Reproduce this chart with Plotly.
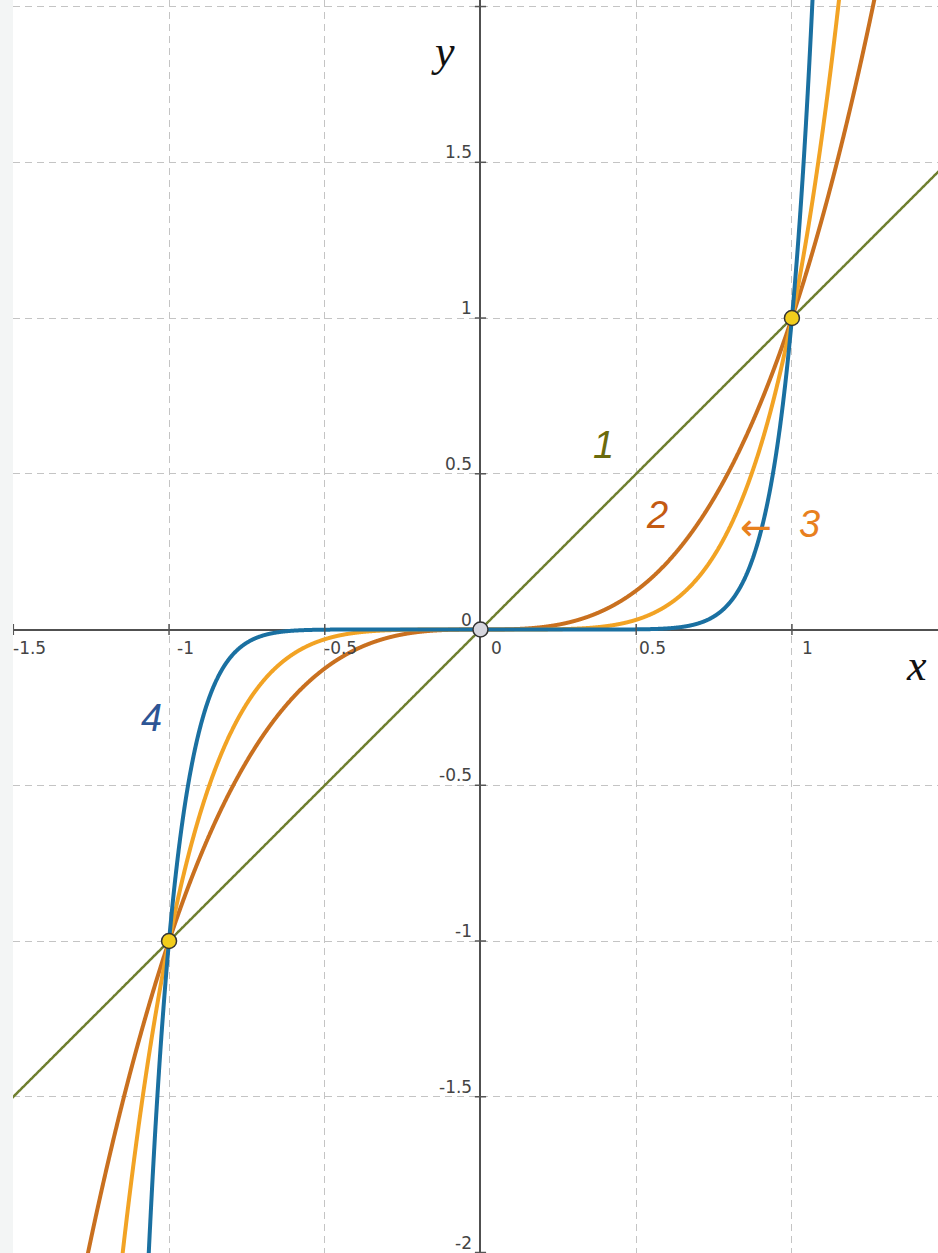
import numpy as np
import plotly.graph_objects as go

# ---- data ----
curve_names = ["1", "2", "3", "4"]
curve_powers = [1, 3, 5, 11]          # y = x^n for each numbered curve
curve_colors = ["#6f7f2f", "#c9701f", "#f2a324", "#1a70a1"]
curve_widths = [2.5, 4, 4, 4]
label_colors = ["#6b6b0c", "#c45a12", "#e8801e", "#2d5595"]

points_x = [-1, 0, 1]
points_y = [-1, 0, 1]
point_fill = ["#f2cd1c", "#d6d6de", "#f2cd1c"]

x_ticks = [-1.5, -1, -0.5, 0, 0.5, 1]
x_tick_labels = ["-1.5", "-1", "-0.5", "0", "0.5", "1"]
y_ticks = [-2, -1.5, -1, -0.5, 0, 0.5, 1, 1.5]
y_tick_labels = ["-2", "-1.5", "-1", "-0.5", "0", "0.5", "1", "1.5"]

x_range = [-1.501, 1.469]
y_range = [-2.0016, 2.021]

fig = go.Figure()

xs = np.linspace(-1.52, 1.5, 4000)
for name, n, col, w in zip(curve_names, curve_powers, curve_colors, curve_widths):
    ys = xs ** n
    ys = np.where(np.abs(ys) > 4, np.nan, ys)
    fig.add_trace(go.Scatter(x=xs, y=ys, mode="lines", name=name,
                             line=dict(color=col, width=w, simplify=False), hoverinfo="skip"))

# small tick marks on the axes
gx = [v for v in x_ticks if v != 0]
gy = [v for v in y_ticks if v != 0] + [2]
fig.add_trace(go.Scatter(x=gx, y=[0] * len(gx), mode="markers",
                         marker=dict(symbol="line-ns-open", size=8, color="#555555",
                                     line=dict(color="#555555", width=1.5)),
                         hoverinfo="skip"))
fig.add_trace(go.Scatter(x=[0] * len(gy), y=gy, mode="markers",
                         marker=dict(symbol="line-ew-open", size=8, color="#555555",
                                     line=dict(color="#555555", width=1.5)),
                         hoverinfo="skip"))

# intersection points
fig.add_trace(go.Scatter(x=points_x, y=points_y, mode="markers",
                         marker=dict(size=15, color=point_fill,
                                     line=dict(color="#333333", width=1.5)),
                         hoverinfo="skip"))

annotations = []
tick_font = dict(family="DejaVu Sans", size=17, color="#444444")
for v, t in zip(x_ticks, x_tick_labels):
    annotations.append(dict(x=v, y=0, xref="x", yref="y", text=t, showarrow=False,
                            xanchor="center", yanchor="middle", xshift=16, yshift=-18,
                            font=tick_font))
for v, t in zip(y_ticks, y_tick_labels):
    annotations.append(dict(x=0, y=v, xref="x", yref="y", text=t, showarrow=False,
                            xanchor="right", yanchor="middle", xshift=-6, yshift=10,
                            font=tick_font))

# axis letters
annotations.append(dict(x=1.401, y=-0.117, xref="x", yref="y", text="<i>x</i>",
                        showarrow=False, font=dict(family="Liberation Serif", size=44, color="#111111")))
annotations.append(dict(x=-0.1204, y=1.857, xref="x", yref="y", text="<i>y</i>",
                        showarrow=False, font=dict(family="Liberation Serif", size=44, color="#111111")))

# curve labels
label_pos = {"1": (0.3965, 0.592), "2": (0.5666, 0.3676), "3": (1.0578, 0.3387), "4": (-1.0578, -0.284)}
for name, lc in zip(curve_names, label_colors):
    lx, ly = label_pos[name]
    annotations.append(dict(x=lx, y=ly, xref="x", yref="y", text="<i>%s</i>" % name,
                            showarrow=False, font=dict(family="Liberation Sans", size=38, color=lc)))
annotations.append(dict(x=0.884, y=0.33, xref="x", yref="y", text="←",
                        showarrow=False, font=dict(family="DejaVu Sans", size=38, color=label_colors[2])))

grid = dict(showgrid=True, gridcolor="#c4c4c4", gridwidth=1, griddash="7px,5px",
            zeroline=True, zerolinecolor="#505050", zerolinewidth=2,
            showticklabels=False, ticks="", showline=False, dtick=0.5, tick0=0)

fig.update_layout(
    width=938, height=1253,
    margin=dict(l=13, r=0, t=0, b=0, pad=0),
    paper_bgcolor="#f3f5f5", plot_bgcolor="#ffffff",
    showlegend=False,
    xaxis=dict(range=x_range, **grid),
    yaxis=dict(range=y_range, **grid),
    annotations=annotations,
)

fig.write_html("out.html", config={"displayModeBar": False},
               post_script="document.body.style.margin='0';document.body.style.padding='0';")
